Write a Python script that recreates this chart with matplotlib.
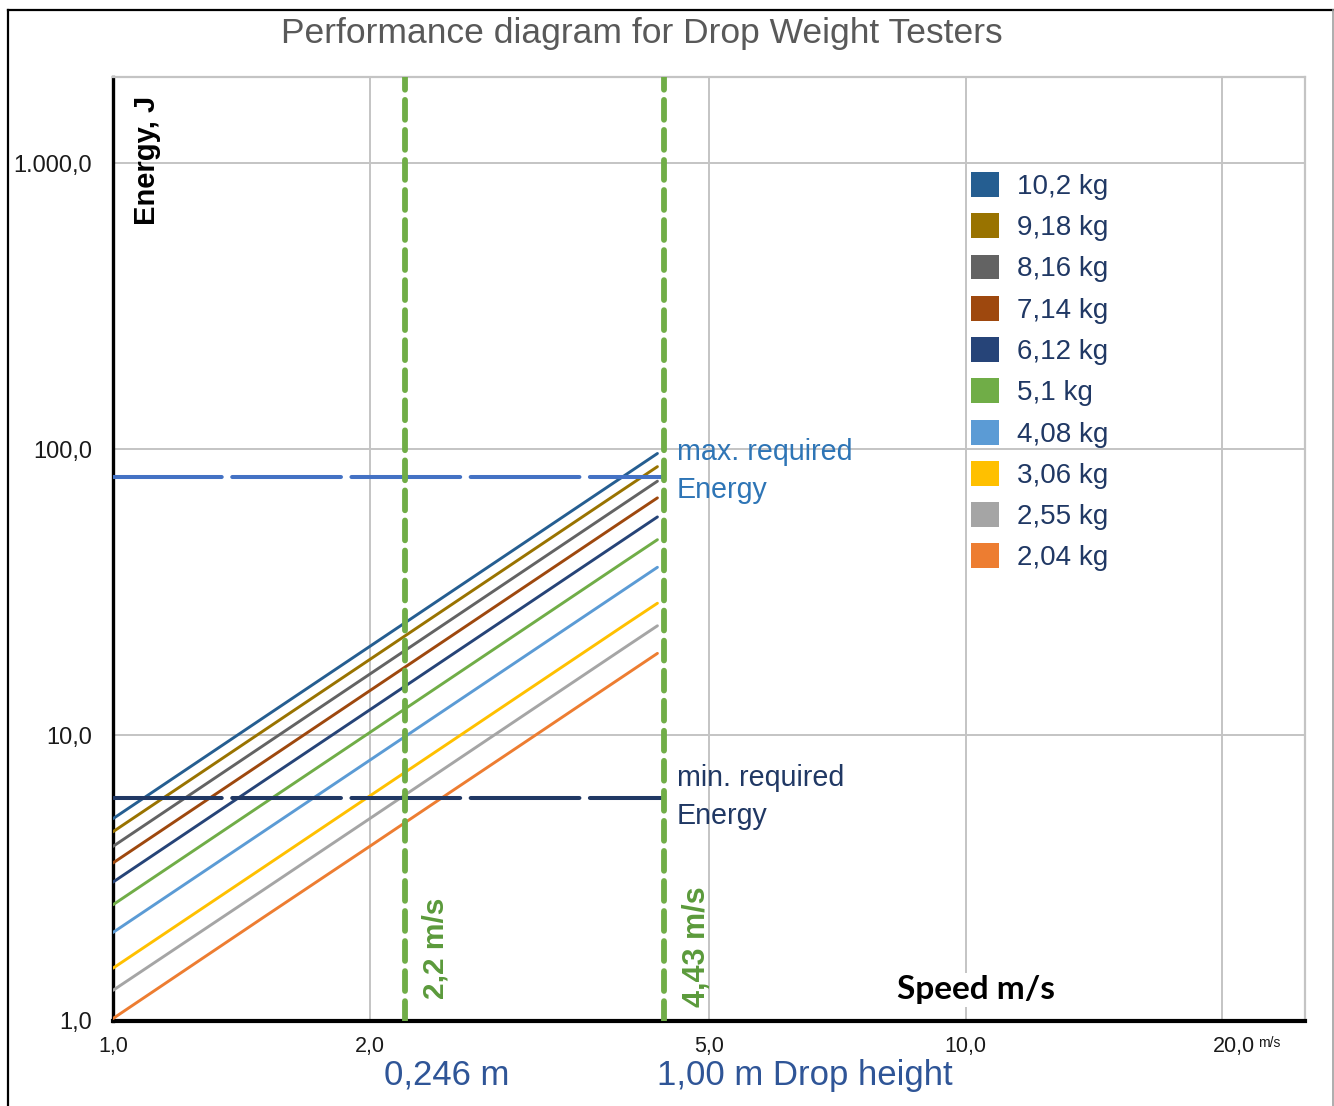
import matplotlib
matplotlib.use("Agg")
import matplotlib.pyplot as plt
from matplotlib.patches import Patch
from matplotlib.lines import Line2D
from matplotlib.transforms import ScaledTranslation

plt.rcParams['font.family'] = ['Liberation Sans', 'DejaVu Sans']

# ---------------- data ----------------
speeds = [1.0, 1.5, 2.0, 2.5, 3.0, 3.5, 4.0, 4.35]   # m/s
mass_labels = ['10,2 kg', '9,18 kg', '8,16 kg', '7,14 kg', '6,12 kg',
               '5,1 kg', '4,08 kg', '3,06 kg', '2,55 kg', '2,04 kg']
energy_102 = [5.10, 11.48, 20.40, 31.88, 45.90, 62.48, 81.60, 96.5]
energy_918 = [4.59, 10.33, 18.36, 28.69, 41.31, 56.23, 73.44, 86.8]
energy_816 = [4.08, 9.18, 16.32, 25.50, 36.72, 49.98, 65.28, 77.2]
energy_714 = [3.57, 8.03, 14.28, 22.31, 32.13, 43.73, 57.12, 67.5]
energy_612 = [3.06, 6.89, 12.24, 19.13, 27.54, 37.49, 48.96, 57.9]
energy_510 = [2.55, 5.74, 10.20, 15.94, 22.95, 31.24, 40.80, 48.2]
energy_408 = [2.04, 4.59, 8.16, 12.75, 18.36, 24.99, 32.64, 38.6]
energy_306 = [1.53, 3.44, 6.12, 9.56, 13.77, 18.74, 24.48, 28.9]
energy_255 = [1.28, 2.87, 5.10, 7.97, 11.48, 15.62, 20.40, 24.1]
energy_204 = [1.02, 2.30, 4.08, 6.38, 9.18, 12.50, 16.32, 19.3]
energies = [energy_102, energy_918, energy_816, energy_714, energy_612,
            energy_510, energy_408, energy_306, energy_255, energy_204]
colors = ['#255E91', '#997300', '#636363', '#9E480E', '#264478',
          '#70AD47', '#5B9BD5', '#FFC000', '#A5A5A5', '#ED7D31']

req_speed_range = [1.0, 4.40]
max_required_energy = 80.0
min_required_energy = 6.0
speed_marks = [2.2, 4.43]

x_ticks = [1, 2, 5, 10, 20]
x_tick_labels = ['1,0', '2,0', '5,0', '10,0', '20,0']
y_ticks = [1, 10, 100, 1000]
y_tick_labels = ['1,0', '10,0', '100,0', '1.000,0']

# ---------------- figure ----------------
W, H = 1334, 1106
fig = plt.figure(figsize=(W / 100, H / 100), dpi=100)


def fx(px):
    return px / W


def fy(py):
    return 1 - py / H


ax = fig.add_axes([fx(113), fy(1021), (1305 - 113) / W, (1021 - 77) / H])
ax.set_xscale('log')
ax.set_yscale('log')
ax.set_xlim(1, 25)
ax.set_ylim(1, 2000)

ax.set_xticks(x_ticks)
ax.set_xticklabels(x_tick_labels, fontsize=15.5, color='#1a1a1a')
ax.set_yticks(y_ticks)
ax.set_yticklabels(y_tick_labels, fontsize=17, color='#1a1a1a')
ax.minorticks_off()
ax.tick_params(axis='x', length=0, pad=11)
ax.tick_params(axis='y', length=0, pad=15)
lab20 = ax.get_xticklabels()[-1]
lab20.set_transform(lab20.get_transform() +
                    ScaledTranslation(12 / 100, 0, fig.dpi_scale_trans))

ax.set_axisbelow(True)
ax.grid(True, which='major', color='#C4C4C4', lw=1.4)
ax.spines['left'].set_color('black')
ax.spines['left'].set_linewidth(2.4)
ax.spines['bottom'].set_color('black')
ax.spines['bottom'].set_linewidth(3.0)
for s in ('top', 'right'):
    ax.spines[s].set_color('#C4C4C4')
    ax.spines[s].set_linewidth(1.6)

# series lines
for e, c in zip(energies[::-1], colors[::-1]):
    ax.plot(speeds, e, color=c, lw=2.1, solid_capstyle='round', zorder=3)

# required energy lines
ax.plot(req_speed_range, [max_required_energy] * 2, color='#4472C4', lw=2.9,
        dashes=(27, 2.6), dash_capstyle='round', zorder=4)
ax.plot(req_speed_range, [min_required_energy] * 2, color='#203864', lw=2.9,
        dashes=(27, 2.6), dash_capstyle='round', zorder=4)

# speed marks
for v in speed_marks:
    ax.axvline(v, color='#70AD47', lw=4.2, dashes=(3.4, 1.75),
               dash_capstyle='round', zorder=5)

# legend
handles = [Patch(facecolor=c, edgecolor='none') for c in colors]
leg = fig.legend(handles, mass_labels, loc='upper left',
                 bbox_to_anchor=(fx(971), fy(172)), bbox_transform=fig.transFigure,
                 frameon=False, borderpad=0, borderaxespad=0,
                 handlelength=1.0, handleheight=1.0, handletextpad=0.65,
                 labelspacing=0.48, fontsize=20)
for t in leg.get_texts():
    t.set_color('#203864')

# texts
fig.text(fx(642), fy(33), 'Performance diagram for Drop Weight Testers',
         ha='center', va='center', fontsize=25.5, color='#595959')
fig.text(fx(147), fy(160), 'Energy, J', rotation=90, ha='center', va='center',
         fontsize=21, fontweight='bold', color='black')
fig.text(fx(677), fy(471), 'max. required\nEnergy', ha='left', va='center',
         fontsize=20.6, color='#2E75B6', linespacing=1.42)
fig.text(fx(677), fy(797), 'min. required\nEnergy', ha='left', va='center',
         fontsize=20.6, color='#203864', linespacing=1.42)
fig.text(fx(435), fy(948), '2,2 m/s', rotation=90, ha='center', va='center',
         fontsize=21.5, fontweight='bold', color='#5B9A3B')
fig.text(fx(697), fy(947), '4,43 m/s', rotation=90, ha='center', va='center',
         fontsize=22, fontweight='bold', color='#5B9A3B')
fig.text(fx(976), fy(990), 'Speed m/s', ha='center', va='center',
         fontsize=24, fontweight='bold', family=['Lato', 'DejaVu Sans'],
         color='black',
         bbox=dict(facecolor='white', edgecolor='none', pad=2))
fig.text(fx(1258), fy(1043), 'm/s', ha='left', va='center', fontsize=10,
         color='#1a1a1a')
fig.text(fx(447), fy(1075), '0,246 m', ha='center', va='center',
         fontsize=25, color='#2F5597')
fig.text(fx(657), fy(1075), '1,00 m Drop height', ha='left', va='center',
         fontsize=25, color='#2F5597')

# outer frame
fig.add_artist(Line2D([fx(7.5), fx(7.5)], [0, fy(10)], color='black', lw=1.6,
                      transform=fig.transFigure))
fig.add_artist(Line2D([fx(7.5), fx(1332.5)], [fy(10), fy(10)], color='black',
                      lw=1.6, transform=fig.transFigure))
fig.add_artist(Line2D([fx(1332.5), fx(1332.5)], [0, fy(10)], color='#A0A0A0',
                      lw=1.2, transform=fig.transFigure))

fig.savefig('out.png', dpi=100, facecolor='white')
